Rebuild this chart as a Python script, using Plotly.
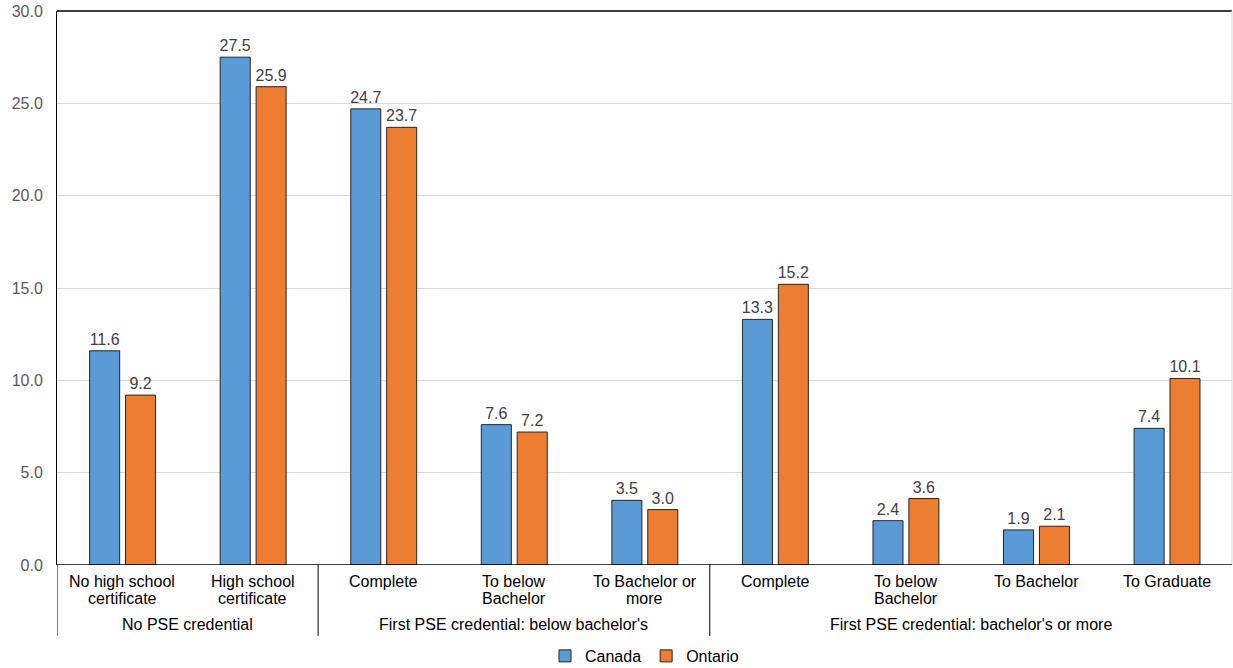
import plotly.graph_objects as go

# Categories (first-line / second-line labels) and their groups
cat_line1 = ["No high school", "High school", "Complete", "To below", "To Bachelor or",
             "Complete", "To below", "To Bachelor", "To Graduate"]
cat_line2 = ["certificate", "certificate", "", "Bachelor", "more",
             "", "Bachelor", "", ""]
groups = ["No PSE credential",
          "First PSE credential: below bachelor's",
          "First PSE credential: bachelor's or more"]
group_spans = [(0, 1), (2, 4), (5, 8)]

canada = [11.6, 27.5, 24.7, 7.6, 3.5, 13.3, 2.4, 1.9, 7.4]
ontario = [9.2, 25.9, 23.7, 7.2, 3.0, 15.2, 3.6, 2.1, 10.1]

y_ticks = [0, 5, 10, 15, 20, 25, 30]

FONT = "Liberation Sans, Arial, Helvetica, sans-serif"
BLUE = "#5B9BD5"
ORANGE = "#ED7D31"
EDGE = "#262626"

x = list(range(len(cat_line1)))
bar_w = 0.23

fig = go.Figure()
fig.add_trace(go.Bar(
    name="Canada", x=x, y=canada, width=bar_w, offset=-bar_w - 0.02,
    marker=dict(color=BLUE, line=dict(color=EDGE, width=1)),
    text=[f"{v:.1f}" for v in canada], textposition="outside", constraintext="none",
    textfont=dict(family=FONT, size=16, color="#404040"), cliponaxis=False,
))
fig.add_trace(go.Bar(
    name="Ontario", x=x, y=ontario, width=bar_w, offset=0.025,
    marker=dict(color=ORANGE, line=dict(color=EDGE, width=1)),
    text=[f"{v:.1f}" for v in ontario], textposition="outside", constraintext="none",
    textfont=dict(family=FONT, size=16, color="#404040"), cliponaxis=False,
))

annotations = []
# category labels, one annotation per line for tight leading
for i in x:
    annotations.append(dict(x=i, y=-0.029, xref="x", yref="paper", text=cat_line1[i],
                            showarrow=False, yanchor="middle",
                            font=dict(family=FONT, size=16, color="#000000")))
    if cat_line2[i]:
        annotations.append(dict(x=i, y=-0.061, xref="x", yref="paper", text=cat_line2[i],
                                showarrow=False, yanchor="middle",
                                font=dict(family=FONT, size=16, color="#000000")))
# group labels
for g, (a, b) in zip(groups, group_spans):
    annotations.append(dict(x=(a + b) / 2, y=-0.108, xref="x", yref="paper", text=g,
                            showarrow=False, yanchor="middle",
                            font=dict(family=FONT, size=16, color="#000000")))

shapes = []
# group separators and the extended left axis line
for sx in [-0.5, 1.5, 4.5]:
    shapes.append(dict(type="line", xref="x", yref="paper", x0=sx, x1=sx,
                       y0=0, y1=-0.128, line=dict(color="#000000", width=1)))
# top border and right edge
shapes.append(dict(type="line", xref="paper", yref="paper", x0=0, x1=1, y0=1, y1=1,
                   line=dict(color="#404040", width=2)))
shapes.append(dict(type="line", xref="paper", yref="paper", x0=1, x1=1, y0=0, y1=1,
                   line=dict(color="#d9d9d9", width=1)))
# bottom axis line
shapes.append(dict(type="line", xref="paper", yref="y", x0=0, x1=1, y0=0, y1=0,
                   line=dict(color="#000000", width=1.5)))

fig.update_layout(
    width=1233, height=668,
    margin=dict(l=57, r=1, t=11, b=103, autoexpand=False),
    paper_bgcolor="white", plot_bgcolor="white",
    barmode="group",
    showlegend=True,
    legend=dict(orientation="h", x=0.5, xanchor="center", y=0.018, yanchor="middle",
                yref="container",
                font=dict(family=FONT, size=16, color="#000000"),
                itemwidth=30, traceorder="normal", tracegroupgap=0),
    xaxis=dict(range=[-0.5, 8.5], showticklabels=False, showgrid=False,
               zeroline=False, showline=False, ticks=""),
    yaxis=dict(range=[0, 30], tickvals=y_ticks, ticktext=[f"{v:.1f}" for v in y_ticks],
               showgrid=True, gridcolor="#d9d9d9", gridwidth=1,
               zeroline=False, showline=True, linecolor="#000000", linewidth=1,
               ticks="", ticklabelstandoff=10,
               tickfont=dict(family=FONT, size=16, color="#595959")),
    annotations=annotations,
    shapes=shapes,
)

fig.write_html("out.html")
